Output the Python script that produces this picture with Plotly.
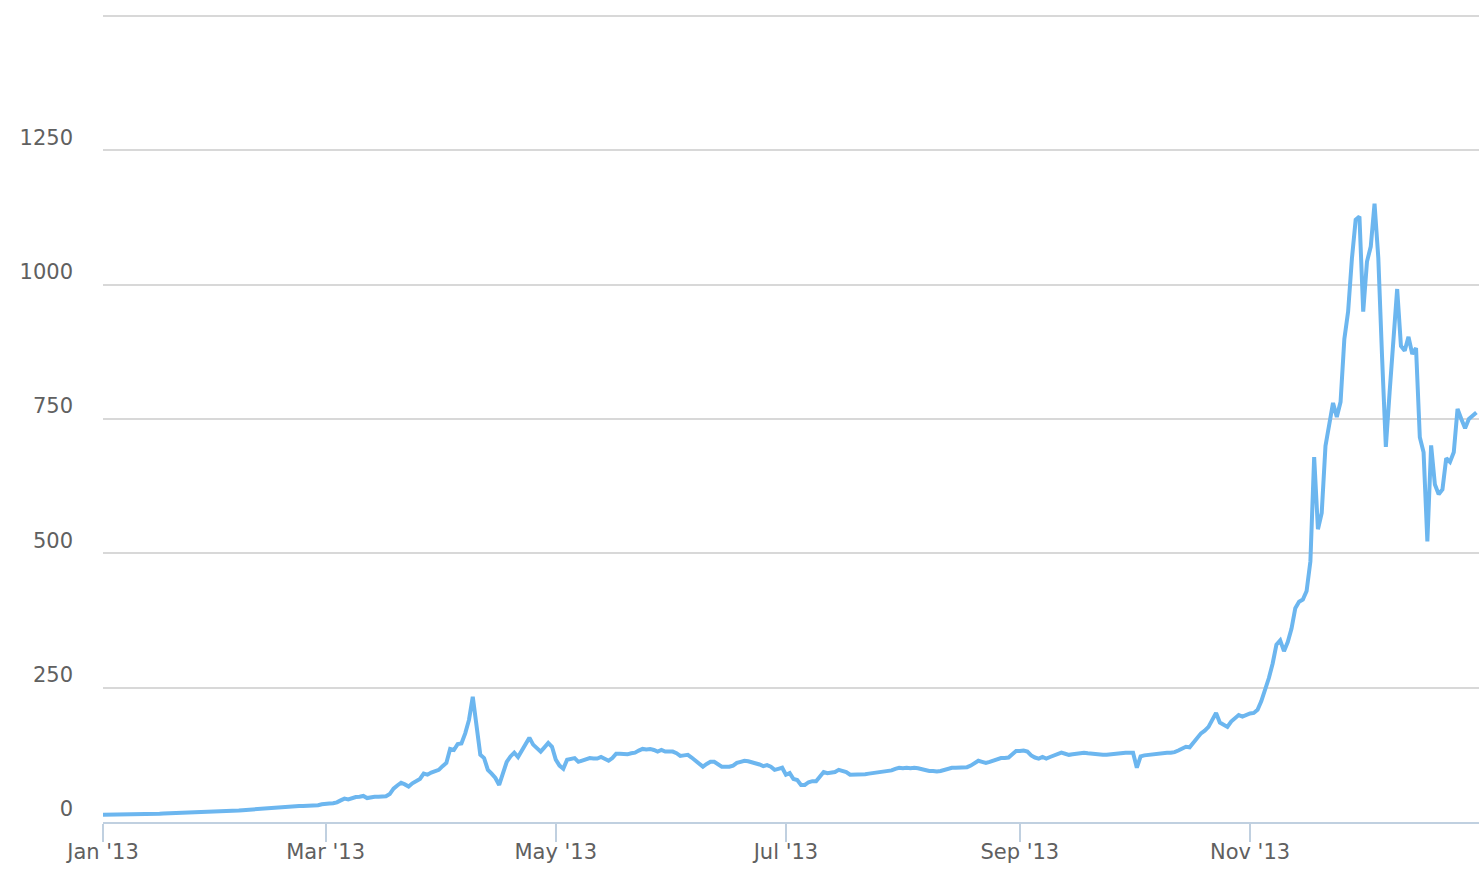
import pandas as pd
import plotly.graph_objects as go

# Daily price, 2013
jan = [13.5, 13.5, 13.6, 13.6, 13.7, 13.7, 13.8, 13.9, 14.0, 14.3, 14.5, 14.5, 14.6, 14.7, 14.9, 15.2,
       15.6, 15.8, 16.0, 16.2, 16.7, 17.2, 17.4, 17.2, 17.5, 17.8, 18.2, 18.8, 19.4, 19.7, 20.3]
feb = [20.5, 20.2, 20.6, 20.6, 20.9, 21.4, 22.0, 22.6, 23.4, 23.8, 24.4, 25.0, 24.7, 25.8, 27.0, 27.2,
       27.0, 27.2, 29.2, 29.8, 29.8, 29.9, 29.8, 30.0, 30.4, 31.0, 31.2, 33.0]
mar = [34.5, 34.4, 34.8, 36.5, 40.2, 43.5, 42.0, 44.5, 46.5, 47.0, 48.5, 44.5, 46.5, 47.0, 47.0, 47.5,
       48.0, 52.0, 62.0, 68.0, 73.0, 70.0, 66.0, 72.0, 75.0, 80.0, 90.0, 88.0, 92.0, 94.0, 97.0]
apr = [104, 110, 136, 134, 145, 146, 165, 190, 233, 172, 125, 119, 97, 90, 82, 69, 93, 112, 122, 129,
       121, 134, 146, 157, 144, 137, 131, 139, 147, 140]
may = [116, 105, 99, 116, 117, 119, 112, 115, 116, 119, 118, 118, 121, 117, 114, 119, 127, 127, 126,
       126, 128, 129, 133, 136, 135, 136, 134, 131, 134, 131, 131]
jun = [131, 128, 123, 124, 125, 120, 114, 108, 103, 108, 112, 112, 108, 103, 103, 103, 105, 110, 112,
       114, 113, 111, 110, 107, 104, 106, 103, 97, 99, 101]
jul = [88, 91, 80, 78, 69, 69, 74, 76, 76, 84, 93, 91, 92, 93, 97, 95, 93, 88, 88, 88, 88, 89, 90, 91,
       91, 92, 93, 94, 96, 99, 101]
aug = [100, 101, 100, 101, 100, 98, 96, 95, 95, 94, 95, 97, 100, 101, 101, 101, 101, 102, 105, 110,
       114, 112, 110, 112, 114, 117, 119, 119, 120, 126, 132]
sep = [132, 133, 131, 124, 120, 118, 121, 118, 121, 124, 127, 129, 127, 125, 126, 127, 128, 129, 128,
       127, 126, 126, 125, 125, 126, 127, 128, 129, 129, 129]
oct_ = [129, 101, 122, 124, 125, 125, 126, 127, 128, 129, 129, 130, 133, 137, 140, 139, 148, 156, 165,
        170, 177, 190, 203, 185, 180, 177, 187, 192, 199, 196, 200]
nov = [202, 203, 209, 225, 245, 268, 295, 330, 338, 318, 335, 360, 398, 410, 414, 430, 485, 679, 545,
       575, 700, 744, 780, 754, 782, 899, 950, 1048, 1121, 1127]
dec = [950, 1043, 1071, 1151, 1050, 865, 698, 800, 899, 992, 886, 877, 903, 871, 882, 716, 688, 522,
       701, 628, 610, 619, 677, 670, 688, 769, 750, 733, 750, 757, 762]

prices = jan + feb + mar + apr + may + jun + jul + aug + sep + oct_ + nov + dec
dates = pd.date_range("2013-01-01", periods=len(prices), freq="D")

y_ticks = [0, 250, 500, 750, 1000, 1250, 1500]
y_ticktext = ["0", "250", "500", "750", "1000", "1250", ""]
x_ticks = ["2013-01-01", "2013-03-01", "2013-05-01", "2013-07-01", "2013-09-01", "2013-11-01"]
x_ticktext = ["Jan '13", "Mar '13", "May '13", "Jul '13", "Sep '13", "Nov '13"]

label_font = dict(family="DejaVu Sans, Lucida Grande, sans-serif", size=21, color="#606060")

fig = go.Figure()
fig.add_trace(go.Scatter(
    x=dates, y=prices, mode="lines",
    line=dict(color="#6cb6ef", width=4),
    hoverinfo="skip",
))

fig.update_layout(
    width=1479, height=881,
    margin=dict(l=103, r=0, t=15, b=59, autoexpand=False),
    paper_bgcolor="white", plot_bgcolor="white",
    showlegend=False,
    font=label_font,
)
fig.update_xaxes(
    range=["2013-01-01", "2013-12-31 16:30"],
    tickvals=x_ticks, ticktext=x_ticktext,
    showgrid=False, zeroline=False, automargin=False,
    showline=True, linecolor="#c0d0e0", linewidth=2,
    ticks="outside", ticklen=18, tickwidth=2, tickcolor="#c0d0e0",
    ticklabelstandoff=-8,
    tickfont=label_font,
)
fig.update_yaxes(
    range=[0, 1502],
    tickvals=y_ticks, ticktext=y_ticktext,
    showgrid=True, gridcolor="#d8d8d8", gridwidth=2,
    zeroline=False, showline=False, automargin=False,
    ticks="", ticklabelstandoff=29, ticklabelshift=-13,
    tickfont=label_font,
)

fig.write_html(
    "out.html",
    config={"displayModeBar": False},
    post_script="document.body.style.margin='0';document.body.style.overflow='hidden';",
)
